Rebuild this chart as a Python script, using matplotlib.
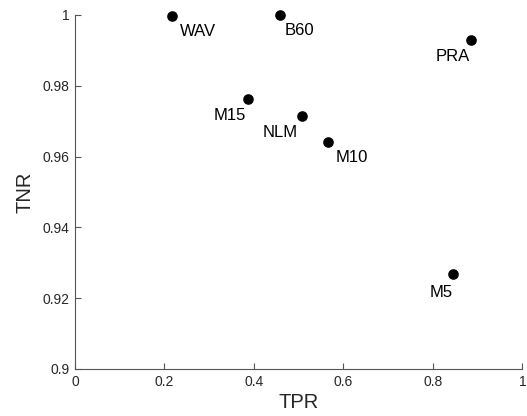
import matplotlib
matplotlib.use("Agg")
import matplotlib.pyplot as plt

# ── Data ─────────────────────────────────────────────────────────────────────
methods = ["WAV", "B60", "PRA", "M15", "NLM", "M10", "M5"]
tpr     = [0.217, 0.459, 0.885, 0.386, 0.508, 0.565, 0.845]
tnr     = [0.9997, 0.9999, 0.9929, 0.9763, 0.9715, 0.9641, 0.9268]

# label offsets in points (dx, dy) and horizontal alignment per method
label_pos = {
    "WAV": ((6, -11), "left"),
    "B60": ((3, -11), "left"),
    "PRA": ((-1, -12), "right"),
    "M15": ((-1, -12), "right"),
    "NLM": ((-3, -12), "right"),
    "M10": ((6, -11), "left"),
    "M5":  ((0, -13), "right"),
}

plt.rcParams["font.family"] = ["Liberation Sans", "DejaVu Sans"]
AX_COLOR = "#262626"

fig = plt.figure(figsize=(5.27, 4.16), dpi=100)
ax = fig.add_axes([0.1423, 0.113, 0.849, 0.851])

ax.scatter(tpr, tnr, s=44, color="black", zorder=3, clip_on=False)
for name, x, y in zip(methods, tpr, tnr):
    (dx, dy), ha = label_pos[name]
    ax.annotate(name, (x, y), xytext=(dx, dy), textcoords="offset points",
                ha=ha, va="center", fontsize=12, color="black")

ax.set_xlim(0, 1)
ax.set_ylim(0.9, 1)
ax.set_xticks([0, 0.2, 0.4, 0.6, 0.8, 1])
ax.set_xticklabels(["0", "0.2", "0.4", "0.6", "0.8", "1"])
ax.set_yticks([0.9, 0.92, 0.94, 0.96, 0.98, 1])
ax.set_yticklabels(["0.9", "0.92", "0.94", "0.96", "0.98", "1"])
ax.set_xlabel("TPR", fontsize=14.5, color=AX_COLOR, labelpad=3)
ax.set_ylabel("TNR", fontsize=14.5, color=AX_COLOR, labelpad=6)

ax.spines["top"].set_visible(False)
ax.spines["right"].set_visible(False)
for s in ("left", "bottom"):
    ax.spines[s].set_color("#555555")
    ax.spines[s].set_linewidth(0.8)
ax.tick_params(direction="in", length=4, width=0.8, color="#555555",
               labelsize=10, labelcolor=AX_COLOR, pad=4)

fig.savefig("out.png", dpi=100)
